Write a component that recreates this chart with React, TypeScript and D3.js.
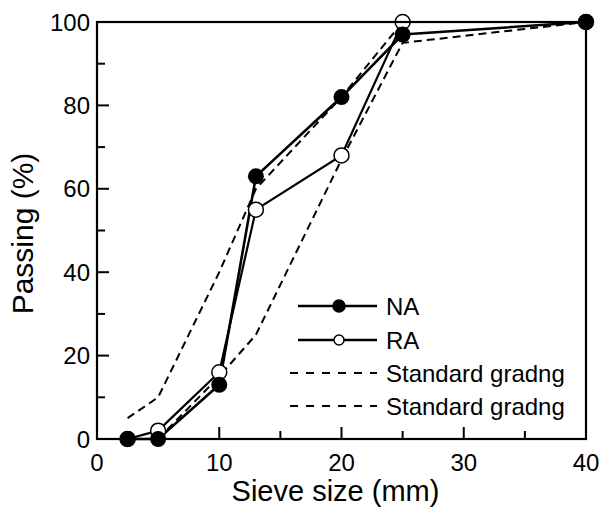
import React, { useEffect, useRef } from 'react';
import * as d3 from 'd3';

// sieve sizes (mm) and passing (%)
const sieve = [2.5, 5, 10, 13, 20, 25, 40];
const naPassing = [0, 0, 13, 63, 82, 97, 100];
const raPassing = [0, 2, 16, 55, 68, 100, 100];

// standard grading envelope
const upperSieve = [2.5, 5, 10, 13, 20, 25, 40];
const upperPassing = [5, 10, 40, 60, 82, 100, 100];
const lowerSieve = [5, 10, 13, 20, 25, 40];
const lowerPassing = [0, 15, 25, 67, 95, 100];

const xTicks = [0, 10, 20, 30, 40];
const xMinor = [5, 15, 25, 35];
const yTicks = [0, 20, 40, 60, 80, 100];
const yMinor = [10, 30, 50, 70, 90];

const legendItems = ['NA', 'RA', 'Standard gradng', 'Standard gradng'];

const FONT = 'Arial, "Liberation Sans", Helvetica, sans-serif';

const App = () => {
	const ref = useRef(null);
	const width = 604;
	const height = 509;

	useEffect(() => {
		if (!ref.current) return;
		const svg = d3.select(ref.current);
		svg.selectAll('*').remove();

		const m = { l: 97, r: 18, t: 22, b: 70 };
		const x = d3.scaleLinear().domain([0, 40]).range([m.l, width - m.r]);
		const y = d3.scaleLinear().domain([0, 100]).range([height - m.b, m.t]);

		const line = d3
			.line()
			.x(d => x(d[0]))
			.y(d => y(d[1]));

		const zip = (xs, ys) => xs.map((v, i) => [v, ys[i]]);

		// dashed grading limits
		[zip(upperSieve, upperPassing), zip(lowerSieve, lowerPassing)].forEach(pts => {
			svg.append('path')
				.attr('d', line(pts))
				.attr('fill', 'none')
				.attr('stroke', '#000')
				.attr('stroke-width', 2)
				.attr('stroke-dasharray', '8,5');
		});

		// solid series
		const na = zip(sieve, naPassing);
		const ra = zip(sieve, raPassing);
		[ra, na].forEach((pts, i) => {
			svg.append('path')
				.attr('d', line(pts))
				.attr('fill', 'none')
				.attr('stroke', '#000')
				.attr('stroke-width', i === 0 ? 2.2 : 2.6);
		});

		svg.append('g')
			.selectAll('circle')
			.data(ra)
			.join('circle')
			.attr('cx', d => x(d[0]))
			.attr('cy', d => y(d[1]))
			.attr('r', 7.5)
			.attr('fill', '#fff')
			.attr('stroke', '#000')
			.attr('stroke-width', 1.5);

		svg.append('g')
			.selectAll('circle')
			.data(na)
			.join('circle')
			.attr('cx', d => x(d[0]))
			.attr('cy', d => y(d[1]))
			.attr('r', 8)
			.attr('fill', '#000');

		// frame
		svg.append('rect')
			.attr('x', x(0))
			.attr('y', y(100))
			.attr('width', x(40) - x(0))
			.attr('height', y(0) - y(100))
			.attr('fill', 'none')
			.attr('stroke', '#000')
			.attr('stroke-width', 2.2);

		// inward ticks
		const tk = svg.append('g').attr('stroke', '#000').attr('stroke-width', 2);
		xTicks.forEach(v => {
			tk.append('line').attr('x1', x(v)).attr('x2', x(v)).attr('y1', y(0)).attr('y2', y(0) - 12);
		});
		xMinor.forEach(v => {
			tk.append('line').attr('x1', x(v)).attr('x2', x(v)).attr('y1', y(0)).attr('y2', y(0) - 8);
		});
		yTicks.forEach(v => {
			tk.append('line').attr('x1', x(0)).attr('x2', x(0) + 12).attr('y1', y(v)).attr('y2', y(v));
		});
		yMinor.forEach(v => {
			tk.append('line').attr('x1', x(0)).attr('x2', x(0) + 8).attr('y1', y(v)).attr('y2', y(v));
		});

		// tick labels
		svg.append('g')
			.selectAll('text')
			.data(xTicks)
			.join('text')
			.attr('x', d => x(d))
			.attr('y', y(0) + 32)
			.attr('text-anchor', 'middle')
			.style('font-family', FONT)
			.style('font-size', '24px')
			.text(d => d);

		svg.append('g')
			.selectAll('text')
			.data(yTicks)
			.join('text')
			.attr('x', x(0) - 7)
			.attr('y', d => y(d) + 8.5)
			.attr('text-anchor', 'end')
			.style('font-family', FONT)
			.style('font-size', '24px')
			.text(d => d);

		// axis titles
		svg.append('text')
			.attr('x', (x(0) + x(40)) / 2 - 6)
			.attr('y', 501)
			.attr('text-anchor', 'middle')
			.style('font-family', FONT)
			.style('font-size', '29px')
			.text('Sieve size (mm)');

		svg.append('text')
			.attr('transform', `translate(33, ${(y(0) + y(100)) / 2 + 3}) rotate(-90)`)
			.attr('text-anchor', 'middle')
			.style('font-family', FONT)
			.style('font-size', '30px')
			.text('Passing (%)');

		// legend
		const lg = svg.append('g');
		const rows = [306, 340, 373, 406];
		legendItems.forEach((name, i) => {
			const ly = rows[i];
			const l = lg.append('line')
				.attr('x1', i < 2 ? 298 : 290)
				.attr('x2', 377)
				.attr('y1', ly)
				.attr('y2', ly)
				.attr('stroke', '#000');
			if (i < 2) {
				l.attr('stroke-width', 2.5);
				lg.append('circle')
					.attr('cx', 339)
					.attr('cy', ly)
					.attr('r', i === 0 ? 6 : 5)
					.attr('fill', i === 0 ? '#000' : '#fff')
					.attr('stroke', '#000')
					.attr('stroke-width', 1.5);
			} else {
				l.attr('stroke-width', 2).attr('stroke-dasharray', '8,8');
			}
			lg.append('text')
				.attr('x', 386)
				.attr('y', ly + 9)
				.style('font-family', FONT)
				.style('font-size', '24px')
				.text(name);
		});
	}, []);

	return (
		<svg
			ref={ref}
			width={width}
			height={height}
			style={{ position: 'absolute', left: 0, top: 0, background: '#fff' }}
		/>
	);
};

export default App;
